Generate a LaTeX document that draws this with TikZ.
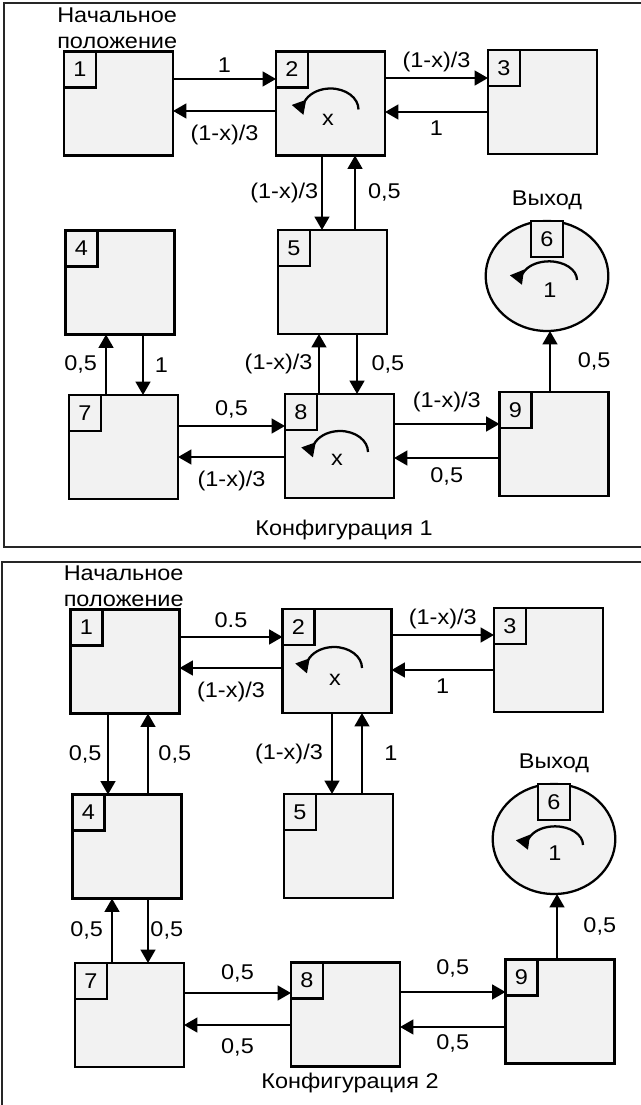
\documentclass[tikz,border=0pt]{standalone}
\usepackage{fontspec}
\setmainfont{Liberation Sans}[FakeStretch=1.1]
\usepackage{tikz}
\usetikzlibrary{positioning, shapes.geometric, arrows.meta}
\definecolor{boxgray}{RGB}{242,242,242}

\begin{document}
\begin{tikzpicture}[
  x=0.75pt, y=-0.75pt,
  every node/.style={font=\fontsize{16pt}{19.5pt}\selectfont},
  state/.style={
    rectangle, draw, line width=1.7pt, fill=boxgray,
    minimum width=81.75pt, minimum height=78pt,
    inner sep=0pt, outer sep=0pt,
  },
  exitstate/.style={
    ellipse, draw, line width=1.7pt, fill=boxgray,
    minimum width=92pt, minimum height=82.5pt,
    inner sep=0pt, outer sep=0pt,
  },
  numbox/.style={
    rectangle, draw, line width=1.7pt, fill=boxgray,
    minimum width=24pt, minimum height=27pt,
    inner sep=0pt, outer sep=0pt,
  },
  arrow/.style={-{Triangle[length=10pt, width=11pt]}, line width=1.7pt},
  lbl/.style={inner sep=1pt},
  panel/.style={draw=black!85, line width=1pt},
]
\useasboundingbox (0,0) rectangle (641,1105);

% Two frames, one per configuration.
\draw[panel] (4,3) rectangle (646,547);
\draw[panel] (2,562) rectangle (646,1112);

% ---------------- Configuration 1 ----------------
\node[state]     (A1) at (118.5,103.5) {};
\node[state]     (A2) at (330.5,103.5) {};
\node[state]     (A3) at (542.5,102)   {};
\node[state]     (A4) at (120,282.5)   {};
\node[state]     (A5) at (332.5,282)   {};
\node[exitstate] (A6) at (547,276)     {};
\node[state]     (A7) at (123.5,447)   {};
\node[state]     (A8) at (339.5,446)   {};
\node[state]     (A9) at (554,444)     {};
\foreach \n in {1,2,3,4,5,7,8,9} {
  \node[numbox, anchor=north west] (A\n-num) at (A\n.north west) {\n};
}
\node[numbox, anchor=north] (A6-num) at (A6.north) {6};

\node[anchor=south west, align=left, inner sep=0pt] (A1-title)
  at ([xshift=-5.25pt, yshift=2.25pt]A1.north west) {Начальное\\положение};
\node[above=5pt of A6] (A6-title) {Выход};
\node (conf1) at (344,530) {Конфигурация 1};

% Self loops.
\draw[arrow] ([shift={(28,6)}]A2.center) arc[start angle=0, end angle=195, x radius=21pt, y radius=15.75pt];
\node (A2-loop) at ([shift={(-2.5,16.5)}]A2.center) {x};
\draw[arrow] ([shift={(28.5,6)}]A8.center) arc[start angle=0, end angle=195, x radius=21pt, y radius=15.75pt];
\node (A8-loop) at ([shift={(-2.5,14)}]A8.center) {x};
\draw[arrow] ([shift={(30,4)}]A6.center) arc[start angle=0, end angle=195, x radius=21pt, y radius=14pt];
\node (A6-loop) at ([shift={(3,14)}]A6.center) {1};

% Horizontal transitions.
\draw[arrow] ([yshift=18.4pt]A1.east) -- ([yshift=18.4pt]A1.east -| A2.west) node[lbl, midway, above=3pt] {1};
\draw[arrow] ([yshift=-5.6pt]A2.west) -- ([yshift=-5.6pt]A2.west -| A1.east) node[lbl, midway, below=9pt] {(1-x)/3};
\draw[arrow] ([yshift=19.1pt]A2.east) -- ([yshift=19.1pt]A2.east -| A3.west) node[lbl, midway, above=3pt] {(1-x)/3};
\draw[arrow] ([yshift=-7.5pt]A3.west) -- ([yshift=-7.5pt]A3.west -| A2.east) node[lbl, midway, below=5pt] {1};
\draw[arrow] ([yshift=15.75pt]A7.east) -- ([yshift=15.75pt]A7.east -| A8.west) node[lbl, midway, above=4pt] {0,5};
\draw[arrow] ([yshift=-8.25pt]A8.west) -- ([yshift=-8.25pt]A8.west -| A7.east) node[lbl, midway, below=9pt] {(1-x)/3};
\draw[arrow] ([yshift=16.5pt]A8.east) -- ([yshift=16.5pt]A8.east -| A9.west) node[lbl, midway, above=7pt] {(1-x)/3};
\draw[arrow] ([yshift=-10.5pt]A9.west) -- ([yshift=-10.5pt]A9.west -| A8.east) node[lbl, midway, below=5pt] {0,5};

% Vertical transitions.
\draw[arrow] ([xshift=-6.4pt]A2.south) -- ([xshift=-6.4pt]A2.south |- A5.north) node[lbl, midway, left=1pt] {(1-x)/3};
\draw[arrow] ([xshift=16.9pt]A5.north) -- ([xshift=16.9pt]A5.north |- A2.south) node[lbl, midway, right=8pt] {0,5};
\draw[arrow] ([xshift=17.25pt]A4.south) -- ([xshift=17.25pt]A4.south |- A7.north) node[lbl, midway, right=7pt] {1};
\draw[arrow] ([xshift=-13.1pt]A7.north) -- ([xshift=-13.1pt]A7.north |- A4.south) node[lbl, midway, left=5pt] {0,5};
\draw[arrow] ([xshift=18.4pt]A5.south) -- ([xshift=18.4pt]A5.south |- A8.north) node[lbl, midway, right=9pt] {0,5};
\draw[arrow] ([xshift=-15.4pt]A8.north) -- ([xshift=-15.4pt]A8.north |- A5.south) node[lbl, midway, left=3pt] {(1-x)/3};
\draw[arrow] ([xshift=-3pt]A9.north) -- ([xshift=-3pt]A9.north |- A6.south) node[lbl, midway, right=19pt] {0,5};

% ---------------- Configuration 2 ----------------
\node[state]     (B1) at (125,661.5)   {};
\node[state]     (B2) at (337,661)     {};
\node[state]     (B3) at (548.5,660)   {};
\node[state]     (B4) at (127,846.5)   {};
\node[state]     (B5) at (338.5,846)   {};
\node[exitstate] (B6) at (554,839)     {};
\node[state]     (B7) at (129.5,1015)  {};
\node[state]     (B8) at (345.5,1014.5){};
\node[state]     (B9) at (560,1011.5)  {};
\foreach \n in {1,2,3,4,5,7,8,9} {
  \node[numbox, anchor=north west] (B\n-num) at (B\n.north west) {\n};
}
\node[numbox, anchor=north] (B6-num) at (B6.north) {6};

\node[anchor=south west, align=left, inner sep=0pt] (B1-title)
  at ([xshift=-5.25pt, yshift=2.25pt]B1.north west) {Начальное\\положение};
\node[above=5pt of B6] (B6-title) {Выход};
\node (conf2) at (350,1083) {Конфигурация 2};

% Self loops.
\draw[arrow] ([shift={(25,7)}]B2.center) arc[start angle=0, end angle=195, x radius=21pt, y radius=15.75pt];
\node (B2-loop) at ([shift={(-2,19)}]B2.center) {x};
\draw[arrow] ([shift={(29,6)}]B6.center) arc[start angle=0, end angle=195, x radius=21pt, y radius=14pt];
\node (B6-loop) at ([shift={(1,14)}]B6.center) {1};

% Horizontal transitions.
\draw[arrow] ([yshift=18.4pt]B1.east) -- ([yshift=18.4pt]B1.east -| B2.west) node[lbl, midway, above=5pt] {0.5};
\draw[arrow] ([yshift=-5.25pt]B2.west) -- ([yshift=-5.25pt]B2.west -| B1.east) node[lbl, midway, below=9pt] {(1-x)/3};
\draw[arrow] ([yshift=19.5pt]B2.east) -- ([yshift=19.5pt]B2.east -| B3.west) node[lbl, midway, above=3pt] {(1-x)/3};
\draw[arrow] ([yshift=-7.5pt]B3.west) -- ([yshift=-7.5pt]B3.west -| B2.east) node[lbl, midway, below=5pt] {1};
\draw[arrow] ([yshift=16.5pt]B7.east) -- ([yshift=16.5pt]B7.east -| B8.west) node[lbl, midway, above=6pt] {0,5};
\draw[arrow] ([yshift=-7.9pt]B8.west) -- ([yshift=-7.9pt]B8.west -| B7.east) node[lbl, midway, below=8pt] {0,5};
\draw[arrow] ([yshift=16.9pt]B8.east) -- ([yshift=16.9pt]B8.east -| B9.west) node[lbl, midway, above=9pt] {0,5};
\draw[arrow] ([yshift=-11.6pt]B9.west) -- ([yshift=-11.6pt]B9.west -| B8.east) node[lbl, midway, below=4pt] {0,5};

% Vertical transitions.
\draw[arrow] ([xshift=-12.75pt]B1.south) -- ([xshift=-12.75pt]B1.south |- B4.north) node[lbl, midway, left=3pt] {0,5};
\draw[arrow] ([xshift=15.75pt]B4.north) -- ([xshift=15.75pt]B4.north |- B1.south) node[lbl, midway, right=6pt] {0,5};
\draw[arrow] ([xshift=-3.75pt]B2.south) -- ([xshift=-3.75pt]B2.south |- B5.north) node[lbl, midway, left=5pt] {(1-x)/3};
\draw[arrow] ([xshift=17.6pt]B5.north) -- ([xshift=17.6pt]B5.north |- B2.south) node[lbl, midway, right=15pt] {1};
\draw[arrow] ([xshift=-13.1pt]B7.north) -- ([xshift=-13.1pt]B7.north |- B4.south) node[lbl, midway, left=5pt] {0,5};
\draw[arrow] ([xshift=15.75pt]B4.south) -- ([xshift=15.75pt]B4.south |- B7.north) node[lbl, midway, right=0pt] {0,5};
\draw[arrow] ([xshift=-2.25pt]B9.north) -- ([xshift=-2.25pt]B9.north |- B6.south) node[lbl, midway, right=18pt] {0,5};

\end{tikzpicture}
\end{document}
